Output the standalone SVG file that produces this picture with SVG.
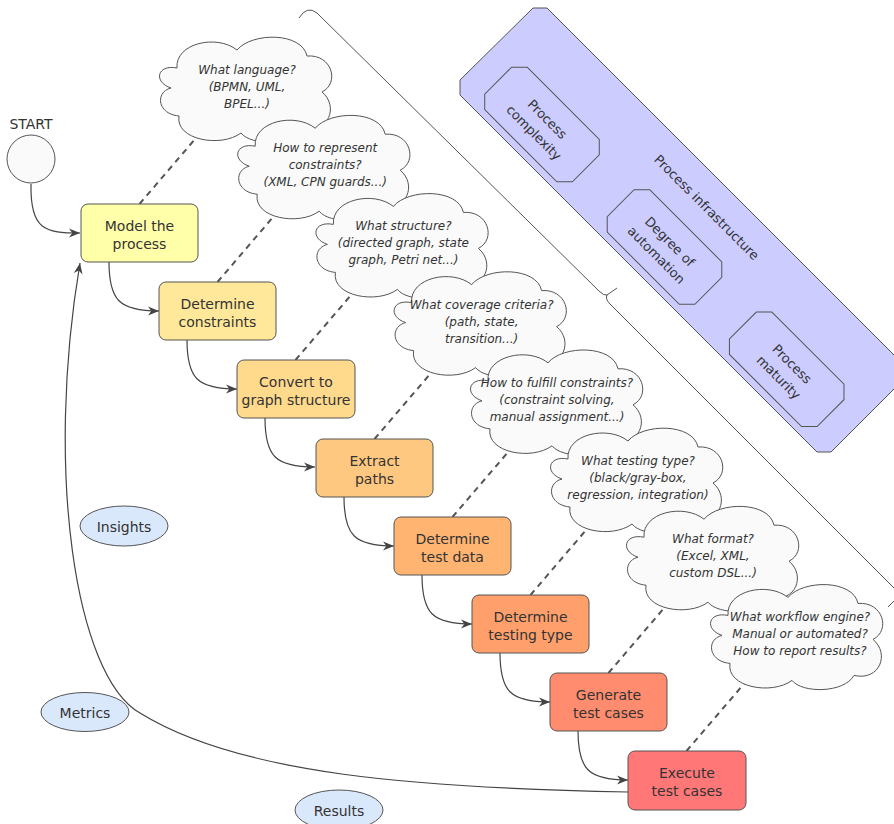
<svg xmlns="http://www.w3.org/2000/svg" width="894" height="824" viewBox="0 0 894 824">
<style>
text{font-family:"DejaVu Sans","Verdana",sans-serif;fill:#333}
.box{stroke:#555;stroke-width:1}
.bt{font-size:14px;text-anchor:middle}
.ct{font-size:12px;font-style:italic;text-anchor:middle}
.cloud{fill:#fafafa;stroke:#555;stroke-width:1}
.dash{stroke:#555;stroke-width:2;stroke-dasharray:6 5;fill:none}
.conn{stroke:#444;stroke-width:1.2;fill:none}
.oct{fill:#ccccff;stroke:#555;stroke-width:1}
.rt{font-size:13px;text-anchor:middle}
.ell{fill:#dae8fc;stroke:#555;stroke-width:1}
</style>
<defs>
<marker id="arr" viewBox="0 0 10 10" refX="10" refY="5" markerWidth="11" markerHeight="11" markerUnits="userSpaceOnUse" orient="auto">
<path d="M0,1 L10,5 L0,9 L3,5 Z" fill="#444"/>
</marker>
<path id="cloudShape" d="M-70,-20 C-72,-45 -30,-54 -10,-38 C5,-56 55,-56 60,-32 C85,-34 93,-5 75,4 C92,18 82,46 56,40 C46,58 4,58 -6,45 C-26,60 -72,52 -68,28 C-90,26 -92,4 -76,0 C-94,-6 -90,-24 -70,-20 Z"/>
<polygon id="octShape" points="-51,-30 51,-30 62,-19 62,19 51,30 -51,30 -62,19 -62,-19"/>
</defs>

<g id="infrastructure">
<polygon class="oct" points="533,8 547,8 904,365 904,379 831,452 817,452 460,95 460,80"/>
<text class="rt" transform="translate(707,207) rotate(45)" y="5">Process infrastructure</text>
</g>
<g id="process-complexity" transform="translate(542,124.5) rotate(45)">
<use href="#octShape" class="oct"/>
<text class="rt" y="-3">Process</text>
<text class="rt" y="16">complexity</text>
</g>
<g id="degree-of-automation" transform="translate(664.5,247) rotate(45)">
<use href="#octShape" class="oct"/>
<text class="rt" y="-3">Degree of</text>
<text class="rt" y="16">automation</text>
</g>
<g id="process-maturity" transform="translate(786.7,369.3) rotate(45)">
<use href="#octShape" class="oct"/>
<text class="rt" y="-3">Process</text>
<text class="rt" y="16">maturity</text>
</g>

<g id="brace">
<path d="M299,18 Q307,5 317,13 L599,291 Q604,296 607,295 L617,288 M607,295 Q605,299 610,304 L894,588 Q900,594 895,600 L888,607" fill="none" stroke="#555" stroke-width="1"/>
</g>

<g id="connectors">
<path class="dash" d="M139.5,204 L204.5,128"/>
<path class="dash" d="M217.5,282 L282.5,206"/>
<path class="dash" d="M295.5,360 L360.5,284"/>
<path class="dash" d="M374.5,439 L439.5,363"/>
<path class="dash" d="M452.5,517 L517.5,441"/>
<path class="dash" d="M530.5,595 L595.5,519"/>
<path class="dash" d="M608.5,673 L673.5,597"/>
<path class="dash" d="M686.5,751 L751.5,675"/>
<path class="conn" marker-end="url(#arr)" d="M31,184 C30,230 45,233 80,233"/>
<path class="conn" marker-end="url(#arr)" d="M109,262 C109,300 119,311 159,311"/>
<path class="conn" marker-end="url(#arr)" d="M187,340 C187,378 197,389 237,389"/>
<path class="conn" marker-end="url(#arr)" d="M265,418 C265,456 275,467 315,467"/>
<path class="conn" marker-end="url(#arr)" d="M344,497 C344,535 354,546 394,546"/>
<path class="conn" marker-end="url(#arr)" d="M422,575 C422,613 432,624 472,624"/>
<path class="conn" marker-end="url(#arr)" d="M500,653 C500,691 510,702 550,702"/>
<path class="conn" marker-end="url(#arr)" d="M578,731 C578,769 588,780 628,780"/>
<path class="conn" marker-end="url(#arr)" d="M628,792 C420,788 240,775 140,713 C75,676 45,470 80,263"/>
</g>

<g id="cloud1"><use href="#cloudShape" class="cloud" x="247" y="88"/>
<text class="ct" x="247" y="74">What language?</text><text class="ct" x="247" y="91">(BPMN, UML,</text><text class="ct" x="247" y="108">BPEL...)</text></g>
<g id="cloud2"><use href="#cloudShape" class="cloud" x="325.2" y="166.2"/>
<text class="ct" x="325.2" y="152.2">How to represent</text><text class="ct" x="325.2" y="169.2">constraints?</text><text class="ct" x="325.2" y="186.2">(XML, CPN guards...)</text></g>
<g id="cloud3"><use href="#cloudShape" class="cloud" x="403.4" y="244.4"/>
<text class="ct" x="403.4" y="230.4">What structure?</text><text class="ct" x="403.4" y="247.4">(directed graph, state</text><text class="ct" x="403.4" y="264.4">graph, Petri net...)</text></g>
<g id="cloud4"><use href="#cloudShape" class="cloud" x="481.6" y="322.6"/>
<text class="ct" x="481.6" y="308.6">What coverage criteria?</text><text class="ct" x="481.6" y="325.6">(path, state,</text><text class="ct" x="481.6" y="342.6">transition...)</text></g>
<g id="cloud5"><use href="#cloudShape" class="cloud" x="558" y="400.8"/>
<text class="ct" x="557" y="386.8">How to fulfill constraints?</text><text class="ct" x="557" y="403.8">(constraint solving,</text><text class="ct" x="557" y="420.8">manual assignment...)</text></g>
<g id="cloud6"><use href="#cloudShape" class="cloud" x="638" y="479"/>
<text class="ct" x="638" y="465">What testing type?</text><text class="ct" x="638" y="482">(black/gray-box,</text><text class="ct" x="638" y="499">regression, integration)</text></g>
<g id="cloud7"><use href="#cloudShape" class="cloud" x="714" y="557.2"/>
<text class="ct" x="713" y="543.2">What format?</text><text class="ct" x="713" y="560.2">(Excel, XML,</text><text class="ct" x="713" y="577.2">custom DSL...)</text></g>
<g id="cloud8"><use href="#cloudShape" class="cloud" x="798" y="635.4"/>
<text class="ct" x="800" y="621.4">What workflow engine?</text><text class="ct" x="800" y="638.4">Manual or automated?</text><text class="ct" x="800" y="655.4">How to report results?</text></g>

<g id="start">
<circle cx="31" cy="159" r="24" fill="#fafafa" stroke="#555" stroke-width="1"/>
<text x="31" y="129" font-size="14" text-anchor="middle">START</text>
</g>

<g id="box1"><rect class="box" x="81" y="204" width="117" height="58" rx="7" fill="#ffffaa"/>
<text class="bt" x="139.5" y="230.5">Model the</text><text class="bt" x="139.5" y="249">process</text></g>
<g id="box2"><rect class="box" x="159" y="282" width="117" height="58" rx="7" fill="#ffe89a"/>
<text class="bt" x="217.5" y="308.5">Determine</text><text class="bt" x="217.5" y="327">constraints</text></g>
<g id="box3"><rect class="box" x="237" y="360" width="118" height="58" rx="7" fill="#ffd98c"/>
<text class="bt" x="296" y="386.5">Convert to</text><text class="bt" x="296" y="405">graph structure</text></g>
<g id="box4"><rect class="box" x="316" y="439" width="117" height="58" rx="7" fill="#ffc880"/>
<text class="bt" x="374.5" y="465.5">Extract</text><text class="bt" x="374.5" y="484">paths</text></g>
<g id="box5"><rect class="box" x="394" y="517" width="117" height="58" rx="7" fill="#ffb472"/>
<text class="bt" x="452.5" y="543.5">Determine</text><text class="bt" x="452.5" y="562">test data</text></g>
<g id="box6"><rect class="box" x="472" y="595" width="117" height="58" rx="7" fill="#ffa06c"/>
<text class="bt" x="530.5" y="621.5">Determine</text><text class="bt" x="530.5" y="640">testing type</text></g>
<g id="box7"><rect class="box" x="550" y="673" width="117" height="58" rx="7" fill="#ff8c6e"/>
<text class="bt" x="608.5" y="699.5">Generate</text><text class="bt" x="608.5" y="718">test cases</text></g>
<g id="box8"><rect class="box" x="628" y="751" width="118" height="59" rx="7" fill="#ff7777"/>
<text class="bt" x="687" y="777.5">Execute</text><text class="bt" x="687" y="796">test cases</text></g>

<g id="insights"><ellipse class="ell" cx="124" cy="526" rx="44" ry="20"/><text x="124" y="532" font-size="14" text-anchor="middle">Insights</text></g>
<g id="metrics"><ellipse class="ell" cx="85" cy="712" rx="44" ry="19.5"/><text x="85" y="718" font-size="14" text-anchor="middle">Metrics</text></g>
<g id="results"><ellipse class="ell" cx="339" cy="810" rx="44" ry="20"/><text x="339" y="816" font-size="14" text-anchor="middle">Results</text></g>
</svg>
